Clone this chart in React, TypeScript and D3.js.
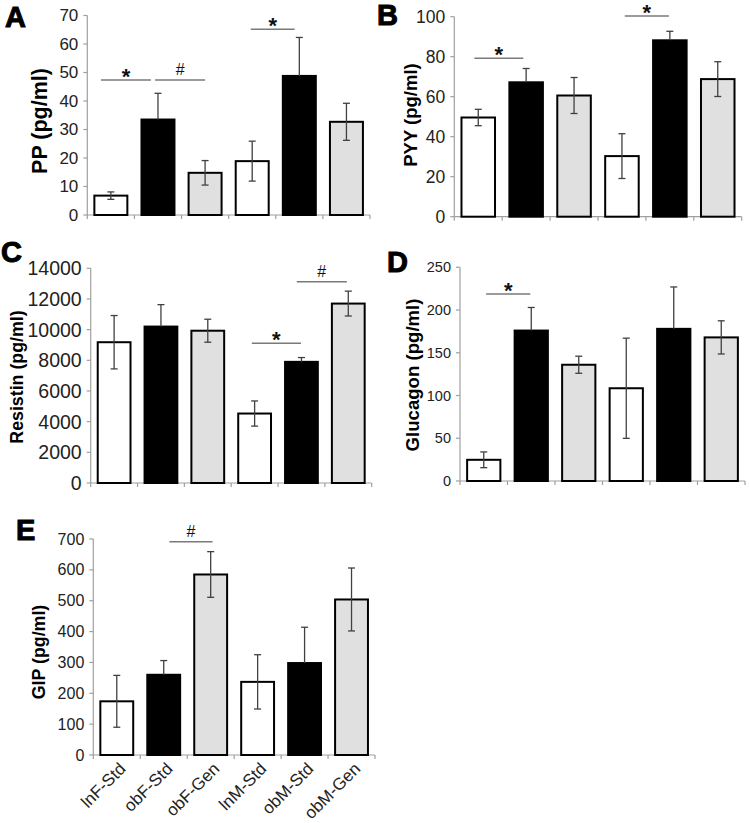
import React from "react";
import * as d3 from "d3";

const categories = ["lnF-Std", "obF-Std", "obF-Gen", "lnM-Std", "obM-Std", "obM-Gen"];
const barFills = ["#ffffff", "#000000", "#e0e0e0", "#ffffff", "#000000", "#e0e0e0"];

const ppMean = [6.8, 33.5, 14.8, 18.9, 48.8, 32.7];
const ppErr = [1.3, 9.2, 4.3, 7.0, 13.5, 6.5];
const ppTicks = [0, 10, 20, 30, 40, 50, 60, 70];
const ppSig: [number, number, number, string][] = [[-0.21, 0.85, 47.4, "*"], [0.94, 2.0, 47.4, "#"], [2.97, 3.9, 65.2, "*"]];

const pyyMean = [49.6, 67.2, 60.6, 30.3, 88.2, 68.8];
const pyyErr = [4.1, 6.9, 9.0, 11.2, 4.5, 8.7];
const pyyTicks = [0, 20, 40, 60, 80, 100];
const pyySig: [number, number, number, string][] = [[-0.08, 0.94, 79.2, "*"], [3.06, 3.98, 100.3, "*"]];

const resistinMean = [9180, 10200, 9930, 4530, 7900, 11700];
const resistinErr = [1740, 1430, 750, 820, 280, 810];
const resistinTicks = [0, 2000, 4000, 6000, 8000, 10000, 12000, 14000];
const resistinSig: [number, number, number, string][] = [[2.94, 3.99, 9110, "*"], [3.9, 4.97, 13130, "#"]];

const glucagonMean = [24.8, 176, 136, 108.5, 178, 168];
const glucagonErr = [9.2, 27, 10, 58.6, 49, 19.4];
const glucagonTicks = [0, 50, 100, 150, 200, 250];
const glucagonSig: [number, number, number, string][] = [[0.05, 0.98, 218.7, "*"]];

const gipMean = [174, 260, 585, 237, 298, 504];
const gipErr = [84, 46, 74, 88, 116, 102];
const gipTicks = [0, 100, 200, 300, 400, 500, 600, 700];
const gipSig: [number, number, number, string][] = [[1.12, 2.04, 691, "#"]];

const FONT = "Liberation Sans, Arial, sans-serif";

type PanelProps = {
  letter: string; title: string; mean: number[]; err: number[]; ticks: number[];
  sig: [number, number, number, string][];
  x0: number; x1: number; yTop: number; yBot: number;
  tickFont: number; titleFont: number; titleX: number; titleY: number;
  letterX: number; letterY: number; showX?: boolean;
};

function Panel(p: PanelProps) {
  const max = p.ticks[p.ticks.length - 1];
  const y = d3.scaleLinear().domain([0, max]).range([p.yBot, p.yTop]);
  const x = d3.scaleBand<string>().domain(categories).range([p.x0, p.x1]).paddingInner(0.3).paddingOuter(0.15);
  const step = x.step();
  const c0 = (x(categories[0]) as number) + x.bandwidth() / 2;
  const pos = (v: number) => c0 + v * step;
  const bounds = d3.range(categories.length + 1).map((i) => p.x0 + i * step);
  return (
    <g>
      <text x={p.letterX} y={p.letterY} fontFamily={FONT} fontWeight="bold" fontSize={29} stroke="#000" strokeWidth={1}>{p.letter}</text>
      <line x1={p.x0} x2={p.x0} y1={p.yTop} y2={p.yBot} stroke="#a0a0a0" strokeWidth={1.2} />
      {p.ticks.map((t) => (
        <g key={t}>
          <line x1={p.x0 - 4} x2={p.x0} y1={y(t)} y2={y(t)} stroke="#a0a0a0" strokeWidth={1.2} />
          <text x={p.x0 - 9} y={y(t)} textAnchor="end" dominantBaseline="central" fontFamily={FONT} fontSize={p.tickFont} fill="#222">{t}</text>
        </g>
      ))}
      <line x1={p.x0} x2={p.x1} y1={p.yBot} y2={p.yBot} stroke="#a0a0a0" strokeWidth={1.2} />
      {bounds.map((b, i) => (
        <line key={i} x1={b} x2={b} y1={p.yBot} y2={p.yBot + 4} stroke="#a0a0a0" strokeWidth={1.2} />
      ))}
      {categories.map((c, i) => (
        <rect key={c} x={x(c)} y={y(p.mean[i])} width={x.bandwidth()} height={p.yBot - y(p.mean[i])}
          fill={barFills[i]} stroke="#000" strokeWidth={2} />
      ))}
      {categories.map((c, i) => {
        const cx = (x(c) as number) + x.bandwidth() / 2;
        const upOnly = barFills[i] === "#000000";
        const hi = y(p.mean[i] + p.err[i]);
        const lo = upOnly ? y(p.mean[i]) : y(p.mean[i] - p.err[i]);
        return (
          <g key={c} stroke="#404040" strokeWidth={1.3}>
            <line x1={cx} x2={cx} y1={hi} y2={lo} />
            <line x1={cx - 3.5} x2={cx + 3.5} y1={hi} y2={hi} />
            {!upOnly && <line x1={cx - 3.5} x2={cx + 3.5} y1={lo} y2={lo} />}
          </g>
        );
      })}
      {p.sig.map(([a, b, v, m], i) => {
        const ly = y(v);
        return (
          <g key={i}>
            <line x1={pos(a)} x2={pos(b)} y1={ly} y2={ly} stroke="#7a7a7a" strokeWidth={1.5} />
            <text x={(pos(a) + pos(b)) / 2} y={m === "*" ? ly + 4 : ly - 5} textAnchor="middle" fontFamily={FONT}
              fontSize={m === "*" ? 22 : 16} fontWeight={m === "*" ? "bold" : "normal"} fill="#111">{m}</text>
          </g>
        );
      })}
      <text transform={`translate(${p.titleX},${p.titleY}) rotate(-90)`} textAnchor="middle" dominantBaseline="central"
        fontFamily={FONT} fontWeight="bold" fontSize={p.titleFont} fill="#000">{p.title}</text>
      {p.showX && categories.map((c) => {
        const cx = (x(c) as number) + x.bandwidth() / 2;
        return (
          <text key={c} transform={`translate(${cx + 6},${p.yBot + 11}) rotate(-45)`} textAnchor="end" dominantBaseline="central"
            fontFamily={FONT} fontSize={17} fill="#222">{c}</text>
        );
      })}
    </g>
  );
}

export default function App() {
  return (
    <svg width={750} height={823} style={{ position: "absolute", left: 0, top: 0, background: "#fff" }}>
      <rect width={750} height={823} fill="#fff" />
      <Panel letter="A" title="PP (pg/ml)" mean={ppMean} err={ppErr} ticks={ppTicks} sig={ppSig}
        x0={87.3} x1={370} yTop={15.5} yBot={215} tickFont={17} titleFont={21.5} titleX={40} titleY={121} letterX={5} letterY={27} />
      <Panel letter="B" title="PYY (pg/ml)" mean={pyyMean} err={pyyErr} ticks={pyyTicks} sig={pyySig}
        x0={454.3} x1={741.7} yTop={16.7} yBot={216.7} tickFont={17.5} titleFont={18.5} titleX={410} titleY={115} letterX={377} letterY={25} />
      <Panel letter="C" title="Resistin (pg/ml)" mean={resistinMean} err={resistinErr} ticks={resistinTicks} sig={resistinSig}
        x0={90.7} x1={371.7} yTop={268.3} yBot={483} tickFont={19.5} titleFont={17.8} titleX={17} titleY={377} letterX={1} letterY={262} />
      <Panel letter="D" title="Glucagon (pg/ml)" mean={glucagonMean} err={glucagonErr} ticks={glucagonTicks} sig={glucagonSig}
        x0={460} x1={745} yTop={267.3} yBot={481} tickFont={14.5} titleFont={18.6} titleX={412.7} titleY={375} letterX={387} letterY={272} />
      <Panel letter="E" title="GIP (pg/ml)" mean={gipMean} err={gipErr} ticks={gipTicks} sig={gipSig}
        x0={93.3} x1={375} yTop={539} yBot={755} tickFont={16} titleFont={17.8} titleX={39.3} titleY={652} letterX={16} letterY={540} showX />
    </svg>
  );
}
